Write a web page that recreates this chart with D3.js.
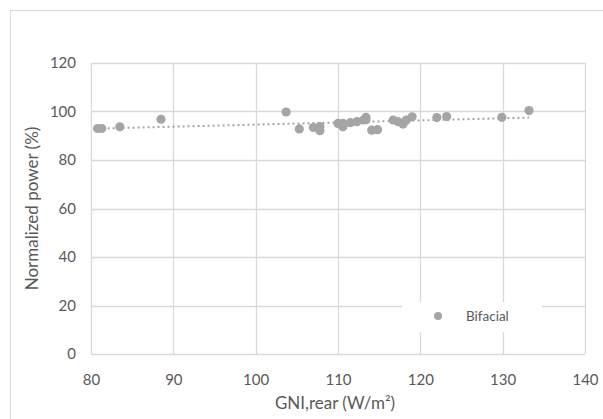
<!DOCTYPE html>
<html><head><meta charset="utf-8">
<script src="https://cdn.jsdelivr.net/npm/d3@7"></script>
<style>body{margin:0;background:#fff}svg{display:block}text{font-family:Lato,"Open Sans",sans-serif}</style>
</head><body>
<script>
const gniRear = [80.8,81.3,83.5,88.5,103.7,105.3,107.0,107.8,107.8,110.0,110.6,110.6,111.5,112.3,113.1,113.4,113.4,114.1,114.8,116.7,117.3,117.9,118.3,119.0,122.0,123.2,129.9,133.2];
const normPower = [93.0,93.0,93.7,96.8,99.8,92.8,93.4,93.8,92.1,95.1,93.7,95.1,95.4,95.8,96.5,97.6,96.6,92.3,92.5,96.5,95.8,94.8,96.5,97.8,97.5,97.9,97.6,100.4];
const xTicks = [80,90,100,110,120,130,140];
const yTicks = [0,20,40,60,80,100,120];
const seriesName = "Bifacial";
const xTitle = "GNI,rear (W/m²)";
const yTitle = "Normalized power (%)";

const W=603,H=419;
const svg=d3.select("body").append("svg").attr("width",W).attr("height",H);
// outer chart border
svg.append("rect").attr("x",10.5).attr("y",10.5).attr("width",W).attr("height",H).attr("fill","none").attr("stroke","#d9d9d9");

const L=91,R=585,T=63,B=354;
const x=d3.scaleLinear().domain([80,140]).range([L,R]);
const y=d3.scaleLinear().domain([0,120]).range([B,T]);

const g=svg.append("g");
// gridlines
g.selectAll(".vg").data(xTicks).join("line").attr("x1",d=>Math.round(x(d))+0.5).attr("x2",d=>Math.round(x(d))+0.5)
 .attr("y1",T).attr("y2",B).attr("stroke","#d9d9d9").attr("stroke-width",1.3);
g.selectAll(".hg").data(yTicks).join("line").attr("y1",d=>Math.round(y(d))+0.5).attr("y2",d=>Math.round(y(d))+0.5)
 .attr("x1",L).attr("x2",R).attr("stroke","#d9d9d9").attr("stroke-width",1.3);

// axes labels
const xa=svg.append("g").attr("transform",`translate(0,${B+26})`).call(d3.axisBottom(x).tickValues(xTicks).tickSize(0).tickPadding(0));
xa.select(".domain").remove();
xa.selectAll("text").attr("fill","#595959").style("font-size","15px").attr("dy","0.35em").attr("y",0);
const ya=svg.append("g").attr("transform",`translate(${L-15},0)`).call(d3.axisLeft(y).tickValues(yTicks).tickSize(0).tickPadding(0));
ya.select(".domain").remove();
ya.selectAll("text").attr("fill","#595959").style("font-size","15px");

// trendline (linear regression)
const n=gniRear.length, mx=d3.mean(gniRear), my=d3.mean(normPower);
let sxy=0,sxx=0; for(let i=0;i<n;i++){sxy+=(gniRear[i]-mx)*(normPower[i]-my);sxx+=(gniRear[i]-mx)**2;}
const slope=sxy/sxx, icpt=my-slope*mx;
const x0=d3.min(gniRear), x1=d3.max(gniRear);
svg.append("line").attr("x1",x(x0)).attr("x2",x(x1)).attr("y1",y(icpt+slope*x0)).attr("y2",y(icpt+slope*x1))
 .attr("stroke","#a5a5a5").attr("stroke-width",2).attr("stroke-dasharray","2,3");

// points
svg.selectAll(".pt").data(gniRear.map((d,i)=>[d,normPower[i]])).join("circle")
 .attr("cx",d=>x(d[0])).attr("cy",d=>y(d[1])).attr("r",4.6).attr("fill","#a5a5a5");

// legend
svg.append("rect").attr("x",402).attr("y",302).attr("width",140).attr("height",30).attr("fill","#fff");
svg.append("circle").attr("cx",438).attr("cy",316).attr("r",4).attr("fill","#a5a5a5");
svg.append("text").attr("x",466).attr("y",316).attr("dy","0.35em").attr("fill","#595959").style("font-size","13.5px").text(seriesName);

// titles
svg.append("text").attr("x",(L+R)/2-3).attr("y",403).attr("text-anchor","middle").attr("dy","0.35em").attr("fill","#595959").style("font-size","17px").text(xTitle);
svg.append("text").attr("transform",`translate(32,${(T+B)/2}) rotate(-90)`).attr("text-anchor","middle").attr("dy","0.35em").attr("fill","#595959").style("font-size","17px").text(yTitle);
</script>
</body></html>
